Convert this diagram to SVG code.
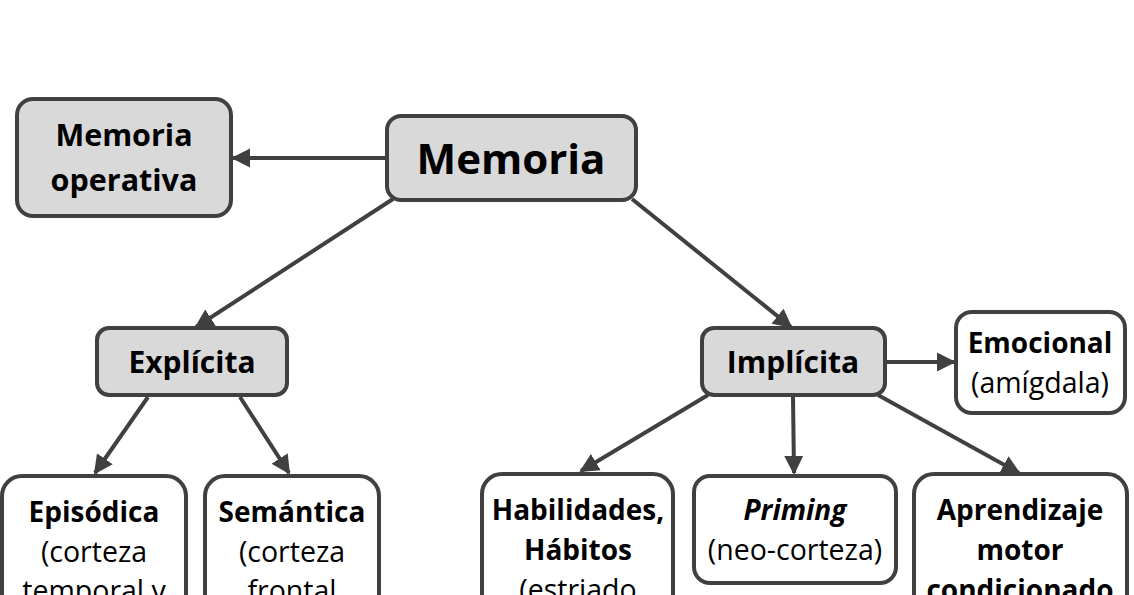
<svg xmlns="http://www.w3.org/2000/svg" width="1134" height="595" viewBox="0 0 1134 595">
<defs>
<marker id="ah" viewBox="0 0 10 10" refX="9" refY="5" markerWidth="4.8" markerHeight="4.8" orient="auto" markerUnits="strokeWidth">
<path d="M0,0 L10,5 L0,10 Z" fill="#404040"/>
</marker>
<style>
.g{fill:#d9d9d9;stroke:#404040;stroke-width:4}
.w{fill:#ffffff;stroke:#404040;stroke-width:4}
text{font-family:"Open Sans","Liberation Sans",sans-serif;fill:#000;text-anchor:middle;font-size:28.5px}
.b{font-weight:bold;font-size:28px}
.c line{stroke:#404040;stroke-width:4;marker-end:url(#ah)}
</style>
</defs>
<rect width="1134" height="595" fill="#fff"/>
<g class="c">
<line x1="387" y1="158" x2="233" y2="158"/>
<line x1="393" y1="199" x2="196" y2="327"/>
<line x1="632" y1="199" x2="791" y2="327"/>
<line x1="148" y1="397" x2="95" y2="473"/>
<line x1="240" y1="397" x2="289" y2="473"/>
<line x1="708" y1="395" x2="581" y2="471"/>
<line x1="793" y1="397" x2="794" y2="473"/>
<line x1="878" y1="395" x2="1019" y2="473"/>
<line x1="886" y1="362" x2="954" y2="362"/>
</g>
<g id="memoria-operativa"><rect class="g" x="17" y="99" width="214" height="117" rx="16"/><text class="b" x="124" y="146" style="font-size:30.5px">Memoria</text><text class="b" x="124" y="191" style="font-size:30.5px">operativa</text></g>
<g id="memoria"><rect class="g" x="387" y="116" width="249" height="84" rx="14"/><text class="b" x="511" y="174" style="font-size:42px">Memoria</text></g>
<g id="explicita"><rect class="g" x="97" y="328" width="190" height="67" rx="12"/><text class="b" x="192" y="373" style="font-size:30px">Explícita</text></g>
<g id="implicita"><rect class="g" x="702" y="328" width="183" height="67" rx="12"/><text class="b" x="793" y="373" style="font-size:30px">Implícita</text></g>
<g id="emocional"><rect class="w" x="956" y="312" width="169" height="101" rx="16"/><text class="b" x="1040" y="353">Emocional</text><text x="1040" y="393">(amígdala)</text></g>
<g id="episodica"><rect class="w" x="2" y="476" width="184" height="140" rx="20"/><text class="b" x="94" y="522">Episódica</text><text x="94" y="562">(corteza</text><text x="94" y="601">temporal y</text></g>
<g id="semantica"><rect class="w" x="205" y="476" width="174" height="140" rx="20"/><text class="b" x="292" y="522">Semántica</text><text x="292" y="562">(corteza</text><text x="292" y="601">frontal</text></g>
<g id="habilidades"><rect class="w" x="482" y="474" width="191" height="140" rx="20"/><text class="b" x="578" y="520">Habilidades,</text><text class="b" x="578" y="560">Hábitos</text><text x="578" y="600">(estriado</text></g>
<g id="priming"><rect class="w" x="694" y="476" width="202" height="107" rx="16"/><text class="b" x="795" y="520" font-style="italic">Priming</text><text x="795" y="560">(neo-corteza)</text></g>
<g id="aprendizaje"><rect class="w" x="914" y="474" width="213" height="140" rx="20"/><text class="b" x="1020" y="520">Aprendizaje</text><text class="b" x="1020" y="560">motor</text><text class="b" x="1020" y="600">condicionado</text></g>
</svg>
